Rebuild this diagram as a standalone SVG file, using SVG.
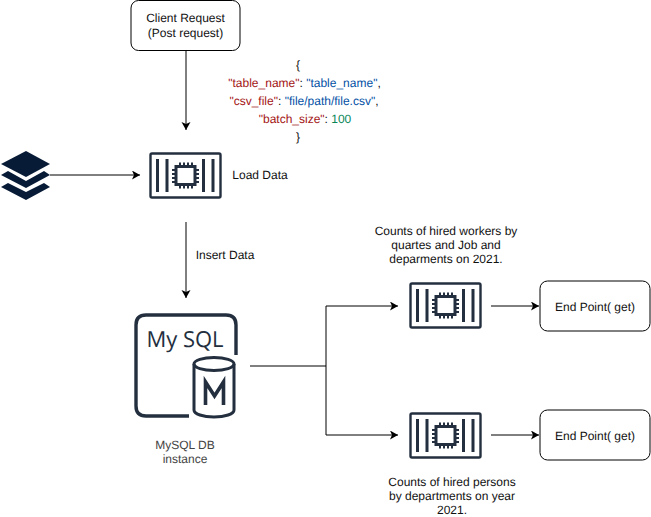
<svg xmlns="http://www.w3.org/2000/svg" width="651" height="517" viewBox="0 0 651 517">
<style>
text{font-family:"Liberation Sans",Arial,sans-serif;font-size:12px;fill:#111;text-anchor:middle;text-rendering:geometricPrecision}
.box{fill:#fff;stroke:#000;stroke-width:1}
.c{fill:none;stroke:#000;stroke-width:1}
.k{fill:#a31515}.s{fill:#0451a5}.n{fill:#098658}
.g{fill:#444}
.m{fill:none;stroke:#232f3e}
</style>
<defs>
<marker id="a" markerUnits="userSpaceOnUse" markerWidth="9" markerHeight="10" refX="8" refY="4.5" orient="auto"><path d="M0 0L8 4.5L0 9L2 4.5Z" fill="#000"/></marker>
<g id="chip">
<rect x="0.5" y="0.5" width="70" height="44" rx="1.500" class="m" stroke-width="2.400" fill="#fff"/>
<path d="M7.500 6V39M17 6V39M53.500 6V39M63 6V39" class="m" stroke-width="3"/>
<rect x="26" y="13.500" width="19" height="18" class="m" stroke-width="3"/>
<path d="M30 9.500v3M34 9.500v3M38 9.500v3M42 9.500v3M30 32.500v3M34 32.500v3M38 32.500v3M42 32.500v3M22 17h3M22 21h3M22 25h3M22 29h3M46 17h3M46 21h3M46 25h3M46 29h3" class="m" stroke-width="2"/>
</g>
</defs>
<g id="connectors">
<path class="c" d="M186 51V130" marker-end="url(#a)"/>
<path class="c" d="M50 175H140" marker-end="url(#a)"/>
<path class="c" d="M186 222V298" marker-end="url(#a)"/>
<path class="c" d="M250 366H326V306H398" marker-end="url(#a)"/>
<path class="c" d="M326 366V435H398" marker-end="url(#a)"/>
<path class="c" d="M491 306H539" marker-end="url(#a)"/>
<path class="c" d="M491 435H539" marker-end="url(#a)"/>
</g>
<g id="client"><rect class="box" x="131" y="0.500" width="109" height="50" rx="7.500"/><text x="185.500" y="21.500">Client Request</text><text x="185.500" y="36.500">(Post request)</text></g>
<g id="json">
<text x="298" y="68.500">{</text>
<text x="304.500" y="86.500"><tspan class="k">"table_name"</tspan>: <tspan class="s">"table_name"</tspan>,</text>
<text x="304" y="104.500"><tspan class="k">"csv_file"</tspan>: <tspan class="s">"file/path/file.csv"</tspan>,</text>
<text x="305" y="122.500"><tspan class="k">"batch_size"</tspan>: <tspan class="n">100</tspan></text>
<text x="298" y="140.500">}</text>
</g>
<g id="layers" fill="#071b36">
<path d="M26 151L50 164L26 177L1 164Z"/>
<path d="M8 171L26 181L44 171L50 175L26 188L1 175Z"/>
<path d="M8 183L26 192L44 183L50 187L26 200L1 187Z"/>
</g>
<g id="load"><use href="#chip" x="150" y="153"/><text x="260" y="178.500">Load Data</text></g>
<text x="225" y="258.500">Insert Data</text>
<g id="mysql">
<path d="M189 416H146Q136 416 136 406V325Q136 315 146 315H226Q236 315 236 325V355" fill="none" stroke="#232f3e" stroke-width="3.400"/>
<ellipse cx="214" cy="364" rx="20" ry="6.500" fill="#fff" stroke="#232f3e" stroke-width="3"/>
<path d="M194 364V410C194 414 203 417 214 417S234 414 234 410V364" fill="none" stroke="#232f3e" stroke-width="3"/>
<path d="M205.500 405V382L214.500 396L223.500 382V405" fill="none" stroke="#232f3e" stroke-width="3.600"/>
<text x="185" y="347" style="font-size:22px;fill:#232f3e;font-family:'Open Sans',sans-serif;font-weight:400">My SQL</text>
<text class="g" x="185" y="448.500">MySQL DB</text><text class="g" x="185" y="462.500">instance</text>
</g>
<g id="q1"><use href="#chip" x="410" y="283"/>
<text x="446" y="234.500">Counts of hired workers by</text><text x="446" y="248.500">quartes and Job and</text><text x="446" y="262.500">deparments on 2021.</text></g>
<g id="q2"><use href="#chip" x="410" y="413"/>
<text x="452" y="485.500">Counts of hired persons</text><text x="452" y="499.500">by departments on year</text><text x="452" y="513.500">2021.</text></g>
<g id="end1"><rect class="box" x="540" y="281" width="110" height="50" rx="7.500"/><text x="595" y="310.500">End Point( get)</text></g>
<g id="end2"><rect class="box" x="540" y="410" width="110" height="50" rx="7.500"/><text x="595" y="439.500">End Point( get)</text></g>
</svg>
